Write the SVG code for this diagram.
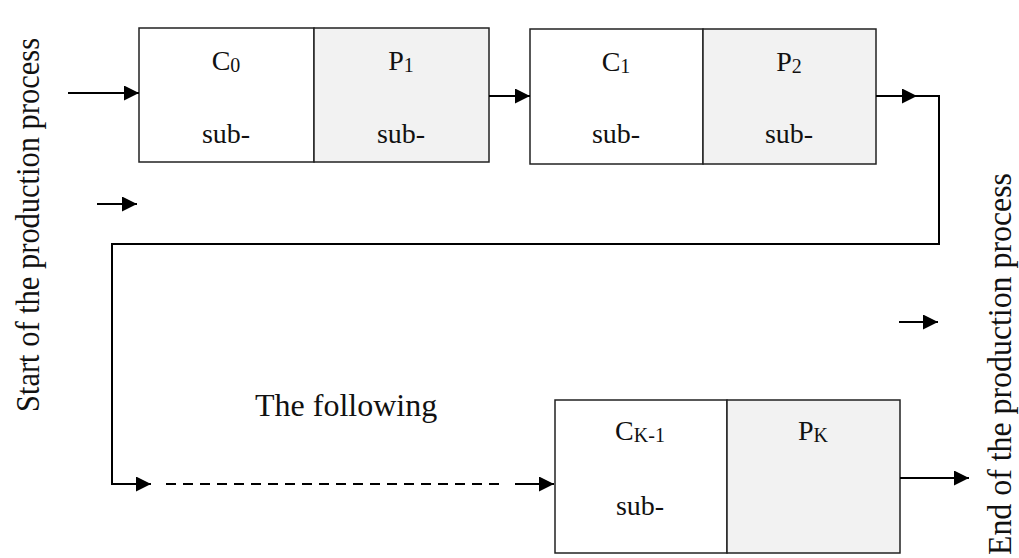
<svg xmlns="http://www.w3.org/2000/svg" width="1019" height="558" viewBox="0 0 1019 558">
<style>
text{font-family:"Liberation Serif","Times New Roman",serif;fill:#111}
.box{font-size:28px;text-anchor:middle}
.sub{font-size:20px}
.cell{stroke:#222;stroke-width:1.5}
.w{fill:#fff}
.g{fill:#f2f2f2}
.ln{stroke:#000;stroke-width:2;fill:none}
.dash{stroke-dasharray:10 7}
</style>
<defs>
<marker id="ah" markerUnits="userSpaceOnUse" markerWidth="16" markerHeight="16" refX="15" refY="7.5" orient="auto">
<path d="M0,0 L15,7.5 L0,15 z" fill="#000"/>
</marker>
</defs>
<rect width="1019" height="558" fill="#fff"/>

<g id="label-start">
<text font-size="33" transform="translate(39,412) rotate(-90)" textLength="374" lengthAdjust="spacingAndGlyphs">Start of the production process</text>
</g>
<g id="label-end">
<text font-size="34" transform="translate(1011,555) rotate(-90)" textLength="382" lengthAdjust="spacingAndGlyphs">End of the production process</text>
</g>
<g id="label-following">
<text font-size="32" x="255" y="416">The following</text>
</g>

<g id="node-stage1">
<rect class="cell w" x="139" y="28" width="175" height="134"/>
<rect class="cell g" x="314" y="28" width="175" height="134"/>
<text class="box" x="226" y="70">C<tspan class="sub" dy="2">0</tspan></text>
<text class="box" x="226" y="143">sub-</text>
<text class="box" x="401" y="70">P<tspan class="sub" dy="2">1</tspan></text>
<text class="box" x="401" y="143">sub-</text>
</g>

<g id="node-stage2">
<rect class="cell w" x="530" y="29" width="173" height="135"/>
<rect class="cell g" x="703" y="29" width="173" height="135"/>
<text class="box" x="616" y="71">C<tspan class="sub" dy="2">1</tspan></text>
<text class="box" x="616" y="143">sub-</text>
<text class="box" x="789" y="71">P<tspan class="sub" dy="2">2</tspan></text>
<text class="box" x="789" y="143">sub-</text>
</g>

<g id="node-stagek">
<rect class="cell w" x="555" y="400" width="172" height="153"/>
<rect class="cell g" x="727" y="400" width="173" height="153"/>
<text class="box" x="640" y="440">C<tspan class="sub" dy="2">K-1</tspan></text>
<text class="box" x="640" y="515">sub-</text>
<text class="box" x="813" y="440">P<tspan class="sub" dy="2">K</tspan></text>
</g>

<g id="connectors">
<line class="ln" x1="68" y1="93" x2="139" y2="93" marker-end="url(#ah)"/>
<line class="ln" x1="97" y1="204" x2="137" y2="204" marker-end="url(#ah)"/>
<line class="ln" x1="489" y1="96" x2="530" y2="96" marker-end="url(#ah)"/>
<line class="ln" x1="876" y1="96" x2="917" y2="96" marker-end="url(#ah)"/>
<polyline class="ln" points="916,96 939,96 939,244 112,244 112,484 151,484" marker-end="url(#ah)"/>
<line class="ln dash" x1="166" y1="484" x2="503" y2="484"/>
<line class="ln" x1="515" y1="484" x2="554" y2="484" marker-end="url(#ah)"/>
<line class="ln" x1="899" y1="322" x2="938" y2="322" marker-end="url(#ah)"/>
<line class="ln" x1="900" y1="478" x2="969" y2="478" marker-end="url(#ah)"/>
</g>
</svg>
